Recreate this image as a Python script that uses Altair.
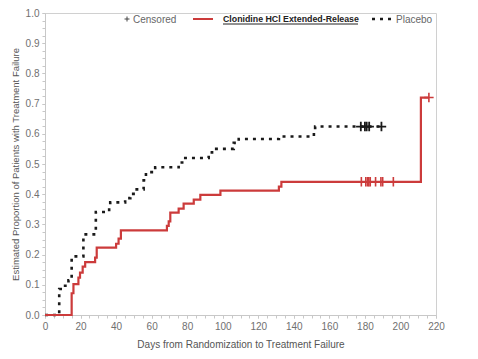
import altair as alt
import pandas as pd

# Kaplan-Meier style step data
clon_days = [0, 15, 16, 18.8, 19.7, 21.2, 22.6, 28.2, 29.1, 40, 41.4, 42.7, 68.6, 69.6, 70.5,
             75.2, 78, 83.7, 87.4, 98.7, 131.6, 133, 211.5, 216]
clon_vals = [0, 0.072, 0.102, 0.124, 0.14, 0.16, 0.175, 0.19, 0.223, 0.236, 0.253, 0.28, 0.295, 0.31, 0.339,
             0.352, 0.369, 0.382, 0.398, 0.412, 0.425, 0.441, 0.72, 0.72]

plac_days = [0, 8, 11.3, 13.2, 15, 21.6, 28.6, 36.1, 36.7, 45.1, 48, 50.8, 55.5, 56.8, 62,
             75.2, 78, 92.1, 94, 106.2, 109, 131.6, 151.3, 152, 190.8]
plac_vals = [0, 0.086, 0.097, 0.115, 0.194, 0.267, 0.341, 0.355, 0.373, 0.387, 0.401, 0.416, 0.446, 0.473, 0.489,
             0.505, 0.52, 0.538, 0.55, 0.57, 0.583, 0.591, 0.607, 0.624, 0.624]

clon_cens_days = [178, 180.5, 181.5, 182.2, 183, 186, 189, 190, 196, 216]
clon_cens_vals = [0.441, 0.441, 0.441, 0.441, 0.441, 0.441, 0.441, 0.441, 0.441, 0.72]
plac_cens_days = [177.7, 180, 181, 182.4, 189.3]
plac_cens_vals = [0.624, 0.624, 0.624, 0.624, 0.624]

x_major = list(range(0, 221, 20))
y_major = [round(i * 0.1, 1) for i in range(0, 11)]
x_minor = list(range(0, 221, 5))
y_minor = [round(i * 0.025, 3) for i in range(0, 41)]

FONT = "Liberation Sans"
RED = "#CC3B3B"
BLACK = "#1a1a1a"

clon = pd.DataFrame({"day": clon_days, "p": clon_vals})
plac = pd.DataFrame({"day": plac_days, "p": plac_vals})
ccens = pd.DataFrame({"day": clon_cens_days, "p": clon_cens_vals})
pcens = pd.DataFrame({"day": plac_cens_days, "p": plac_cens_vals})
minor = pd.DataFrame({"mx": x_minor, "my": (y_minor * 2)[:len(x_minor)]})

xscale = alt.Scale(domain=[0, 220], nice=False, zero=False)
yscale = alt.Scale(domain=[0, 1], nice=False)

xenc = alt.X("day:Q", scale=xscale, title="Days from Randomization to Treatment Failure",
             axis=alt.Axis(values=x_major, tickSize=3, labelPadding=3, titlePadding=8, grid=False,
                           orient="bottom", labelFlush=False, titleFontSize=10))
yenc = alt.Y("p:Q", scale=yscale, title="Estimated Proportion of Patients with Treatment Failure",
             axis=alt.Axis(values=y_major, format=".1f", tickSize=3, labelPadding=3, titlePadding=5,
                           grid=False, orient="left", labelFlush=False, titleFontSize=9.5))
xn = alt.X("day:Q", axis=None)
yn = alt.Y("p:Q", axis=None)

plac_line = alt.Chart(plac).mark_line(interpolate="step-after", color=BLACK, strokeWidth=2.6,
                                      strokeDash=[3, 5]).encode(x=xenc, y=yenc)
clon_line = alt.Chart(clon).mark_line(interpolate="step-after", color=RED, strokeWidth=2.2).encode(
    x=xn, y=yn)

plus = "M-1,0L1,0M0,-1L0,1"
pc = alt.Chart(pcens).mark_point(shape=plus, filled=False, color=BLACK, strokeWidth=1.8, size=90,
                                 opacity=1).encode(x=xn, y=yn)
cc = alt.Chart(ccens).mark_point(shape=plus, filled=False, color=RED, strokeWidth=1.6, size=90,
                                 opacity=1).encode(x=xn, y=yn)

one = pd.DataFrame({"a": [0]})
LY = 6
leg_plus = alt.Chart(one).mark_point(shape=plus, filled=False, color="#444", strokeWidth=1,
                                     size=25, opacity=1).encode(x=alt.value(82), y=alt.value(LY))
leg_cens = alt.Chart(one).mark_text(text="Censored", font=FONT, fontSize=10, color="#666",
                                    align="left", baseline="middle").encode(x=alt.value(88), y=alt.value(LY + 1))
leg_red = alt.Chart(one).mark_rule(color=RED, strokeWidth=2).encode(
    x=alt.value(148), x2=alt.value(168), y=alt.value(LY))
leg_clon = alt.Chart(one).mark_text(text="Clonidine HCl Extended-Release", font=FONT, fontSize=8.8,
                                    fontWeight="bold", color="#222", align="left",
                                    baseline="middle").encode(x=alt.value(178), y=alt.value(LY))
leg_ul = alt.Chart(one).mark_rule(color="#222", strokeWidth=1).encode(
    x=alt.value(178), x2=alt.value(313), y=alt.value(LY + 5))
leg_plac_line = alt.Chart(one).mark_rule(color=BLACK, strokeWidth=2.6, strokeDash=[3, 5]).encode(
    x=alt.value(327), x2=alt.value(349), y=alt.value(LY))
leg_plac = alt.Chart(one).mark_text(text="Placebo", font=FONT, fontSize=10, color="#666",
                                    align="left", baseline="middle").encode(x=alt.value(351), y=alt.value(LY + 1))

minor_layer = alt.Chart(minor).mark_point(opacity=0).encode(
    x=alt.X("mx:Q", scale=xscale, title=None,
            axis=alt.Axis(values=x_minor, labels=False, domain=False, tickSize=3, grid=False,
                          orient="bottom", title=None)),
    y=alt.Y("my:Q", scale=yscale, title=None,
            axis=alt.Axis(values=y_minor, labels=False, domain=False, tickSize=3, grid=False,
                          orient="left", title=None)),
)

chart = alt.layer(plac_line, minor_layer, clon_line, pc, cc, leg_plus, leg_cens, leg_red, leg_clon,
                  leg_ul, leg_plac_line, leg_plac).resolve_axis(
    x="independent", y="independent").properties(
    width=391, height=302,
    autosize=alt.AutoSizeParams(type="none"),
    padding={"left": 37, "top": 5, "right": 20, "bottom": 36},
).configure_view(stroke="#d0d0d0", strokeWidth=1).configure_axis(
    labelFont=FONT, titleFont=FONT, labelFontSize=10,
    labelColor="#707070", titleColor="#555", titleFontWeight="normal",
    domainColor="#c8c8c8", tickColor="#c8c8c8",
)

chart.save("out.html", embed_options={"renderer": "svg", "actions": False})
